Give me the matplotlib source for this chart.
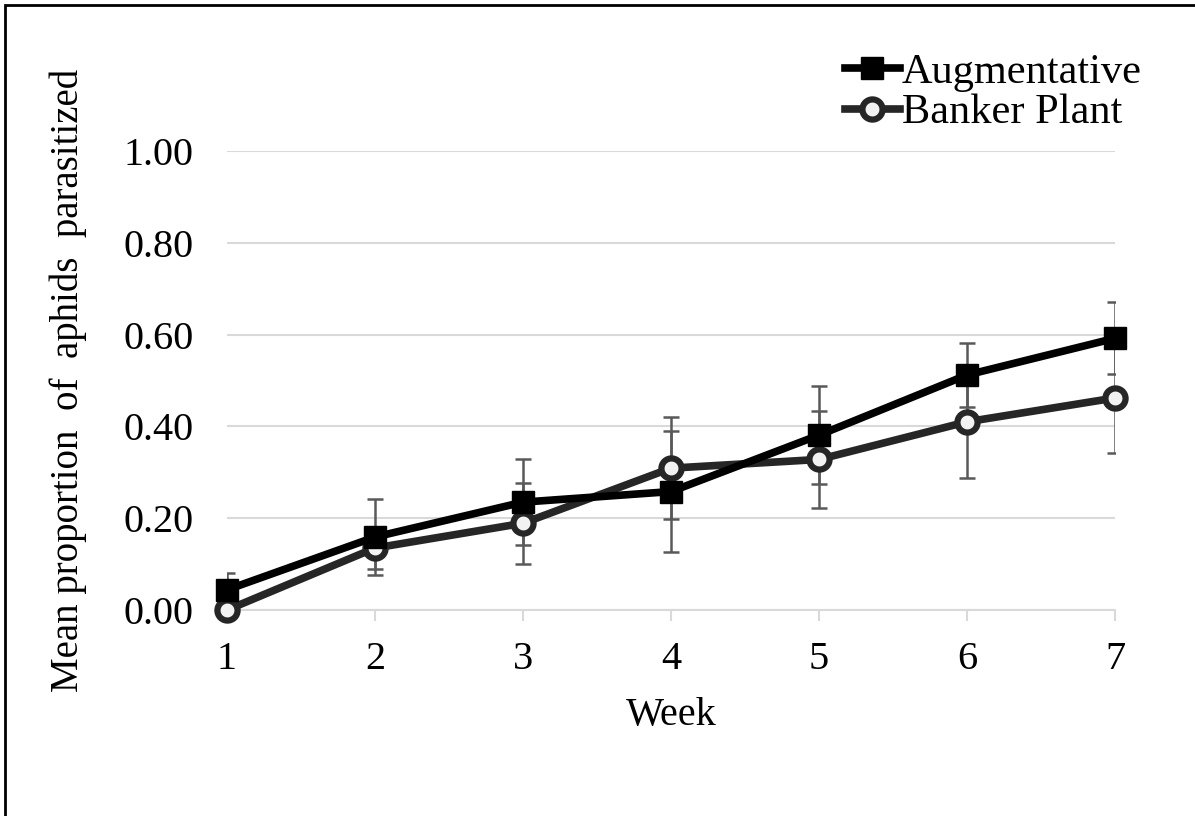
import matplotlib
matplotlib.use("Agg")
import matplotlib.pyplot as plt
from matplotlib.patches import Rectangle
from matplotlib.lines import Line2D

weeks = [1, 2, 3, 4, 5, 6, 7]
aug_mean = [0.044, 0.159, 0.235, 0.258, 0.381, 0.512, 0.592]
aug_err = [0.036, 0.083, 0.094, 0.132, 0.106, 0.070, 0.078]
bank_mean = [0.0, 0.135, 0.189, 0.309, 0.328, 0.410, 0.462]
bank_err = [0.0, 0.046, 0.088, 0.111, 0.106, 0.122, 0.120]
yticks = [0.0, 0.2, 0.4, 0.6, 0.8, 1.0]
ytick_labels = ["0.00", "0.20", "0.40", "0.60", "0.80", "1.00"]

plt.rcParams['font.family'] = ['Liberation Serif', 'DejaVu Serif']

W, H = 1195, 816
fig = plt.figure(figsize=(W / 100, H / 100), dpi=100)
ax = fig.add_axes([227 / W, 1 - 610 / H, (1115 - 227) / W, (610 - 151) / H])

ax.set_xlim(1, 7)
ax.set_ylim(0, 1.0)

# error bars
ax.errorbar(weeks, aug_mean, yerr=aug_err, fmt='none', ecolor='#595959',
            elinewidth=1.8, capsize=6, capthick=1.8, zorder=2)
ax.errorbar(weeks, bank_mean, yerr=bank_err, fmt='none', ecolor='#595959',
            elinewidth=1.8, capsize=6, capthick=1.8, zorder=2)

ax.plot(weeks, aug_mean, color='black', lw=5.5, marker='s', ms=15.5,
        mfc='black', mec='black', solid_joinstyle='round', clip_on=False,
        zorder=4, label='Augmentative')
ax.plot(weeks, bank_mean, color='#262626', lw=5.5, marker='o', ms=14.5,
        mfc='#f2f2f2', mec='#262626', mew=4.5, solid_joinstyle='round',
        clip_on=False, zorder=3, label='Banker Plant')

ax.set_yticks(yticks)
ax.set_yticklabels(ytick_labels)
ax.set_xticks(weeks)
ax.grid(axis='y', color='#d9d9d9', lw=1.5, zorder=0)
ax.set_axisbelow(True)
for s in ['left', 'right', 'top']:
    ax.spines[s].set_visible(False)
ax.spines['bottom'].set_color('#d9d9d9')
ax.spines['bottom'].set_linewidth(1.5)
ax.tick_params(axis='y', length=0, pad=24, labelsize=29)
ax.tick_params(axis='x', length=8, width=1.5, color='#d9d9d9', pad=14,
               labelsize=29)

ax.set_xlabel('Week', fontsize=29, labelpad=14)
ax.set_ylabel('Mean proportion  of  aphids  parasitized', fontsize=28,
              labelpad=26)

handles = [
    Line2D([], [], color='black', lw=5.5, marker='s', ms=15.5, mfc='black',
           mec='black'),
    Line2D([], [], color='#262626', lw=5.5, marker='o', ms=14.5,
           mfc='#f2f2f2', mec='#262626', mew=4.5),
]
fig.legend(handles, ['Augmentative', 'Banker Plant'], loc='upper right',
           bbox_to_anchor=(1142 / W, 1 - 53 / H), frameon=False,
           fontsize=30.5, handlelength=1.3, handletextpad=0.05,
           labelspacing=0.05, borderaxespad=0, borderpad=0)

fig.add_artist(Rectangle((5 / W, -0.1), 1.2, 1 - 5 / H + 0.1,
                         transform=fig.transFigure, fill=False,
                         edgecolor='black', lw=2, clip_on=False))

fig.savefig('out.png', dpi=100)
